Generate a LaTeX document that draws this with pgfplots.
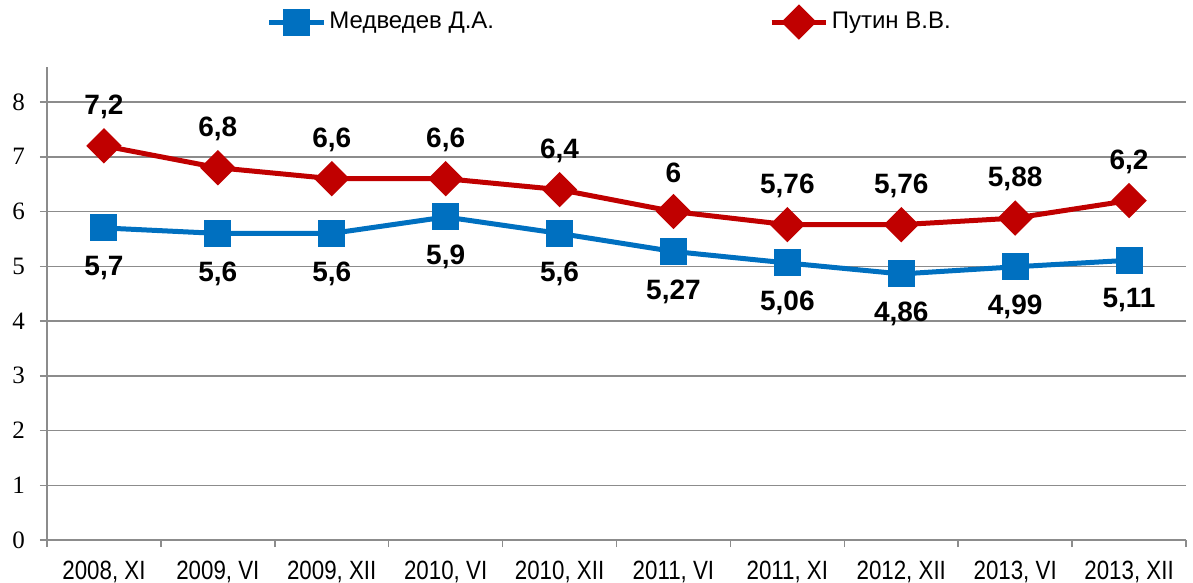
\documentclass[border=0pt]{standalone}
\usepackage{pgfplots}
\pgfplotsset{compat=1.18}
\usepackage{fontspec}
\setmainfont{Liberation Sans}
\newfontfamily\serifticks{Liberation Serif}
\definecolor{mblue}{RGB}{0,112,192}
\definecolor{pred}{RGB}{192,0,0}
\definecolor{gridc}{RGB}{140,140,140}
\begin{document}
\begin{tikzpicture}
\begin{axis}[
  at={(0,0)}, anchor=south west,
  scale only axis,
  width=569.5pt, height=236.5pt,
  xmin=-0.5, xmax=9.5,
  ymin=0, ymax=8.64,
  axis x line=bottom, axis y line=left,
  axis line style={gridc, line width=0.75pt, -},
  xtick={0,...,9},
  xticklabels={{2008, XI},{2009, VI},{2009, XII},{2010, VI},{2010, XII},{2011, VI},{2011, XI},{2012, XII},{2013, VI},{2013, XII}},
  minor xtick={-0.5,0.5,...,9.5},
  major x tick style={draw=none},
  minor x tick style={gridc, line width=0.75pt},
  minor tick length=3.5pt,
  xtick align=outside, ytick align=outside,
  ytick={0,...,8},
  major y tick style={gridc, line width=0.75pt},
  major tick length=3.5pt,
  ymajorgrids,
  grid style={gridc, line width=0.75pt},
  /pgf/number format/assume math mode=true,
  yticklabel style={font=\serifticks\fontsize{12.5}{14}\selectfont, xshift=-4pt},
  xticklabel style={font=\fontsize{12}{14}\selectfont, yshift=-3pt, xscale=0.93, yscale=1.1},
  legend style={draw=none, fill=none, at={(0.4945,1.095)}, anchor=center,
    font=\fontsize{12}{14}\selectfont, legend columns=2,
    nodes={inner xsep=1.5pt},
    /tikz/every even column/.append style={column sep=136pt}},
  legend image code/.code={\draw[mark repeat=2,mark phase=2] plot coordinates {(0cm,0cm)(0.48cm,0cm)(0.96cm,0cm)};},
  point meta=explicit symbolic,
  nodes near coords,
]
\addplot[mblue, line width=2.5pt, mark=square*, mark size=5.5pt, mark options={solid},
  every node near coord/.append style={anchor=center, yshift=-20pt, text=black, font=\fontsize{14}{16}\bfseries}]
  table[meta=lab] {
x y lab
0 5.7 {5,7}
1 5.6 {5,6}
2 5.6 {5,6}
3 5.9 {5,9}
4 5.6 {5,6}
5 5.27 {5,27}
6 5.06 {5,06}
7 4.86 {4,86}
8 4.99 {4,99}
9 5.11 {5,11}
};
\addlegendentry{Медведев Д.А.}
\addplot[pred, line width=2.5pt, mark=square*, mark size=5pt, mark options={solid, rotate=45},
  every node near coord/.append style={anchor=center, yshift=19.5pt, text=black, font=\fontsize{14}{16}\bfseries}]
  table[meta=lab] {
x y lab
0 7.2 {7,2}
1 6.8 {6,8}
2 6.6 {6,6}
3 6.6 {6,6}
4 6.4 {6,4}
5 6 {6}
6 5.76 {5,76}
7 5.76 {5,76}
8 5.88 {5,88}
9 6.2 {6,2}
};
\addlegendentry{Путин В.В.}
\end{axis}
\pgfresetboundingbox
\useasboundingbox (-23.5pt,-21.5pt) rectangle (573pt,270pt);
\end{tikzpicture}
\end{document}
